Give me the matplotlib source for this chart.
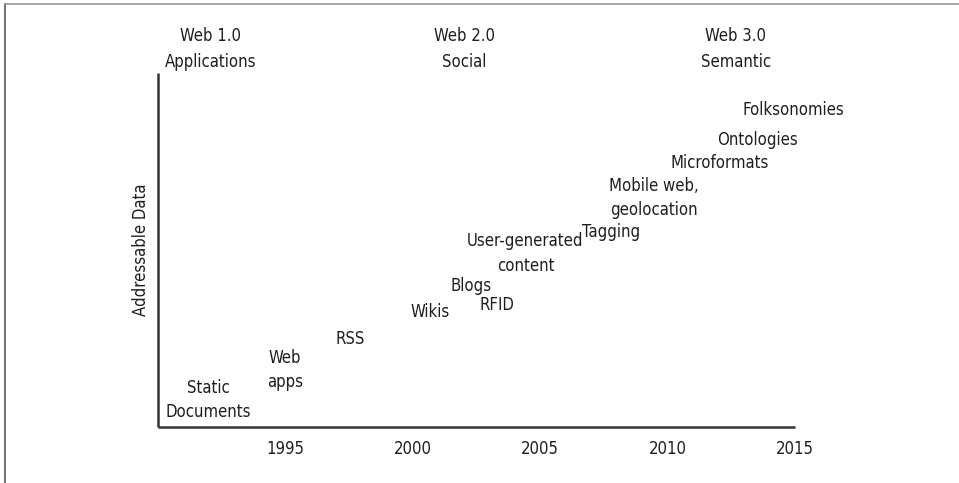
import matplotlib
matplotlib.use('Agg')
import matplotlib.pyplot as plt
from matplotlib.lines import Line2D

plt.rcParams['font.family'] = ['DejaVu Sans']
plt.rcParams['font.stretch'] = 'condensed'

# technologies, placed by year and amount of addressable data
labels = ['Static\nDocuments', 'Web\napps', 'RSS', 'Wikis', 'Blogs', 'RFID',
          'User-generated\ncontent', 'Tagging', 'Mobile web,\ngeolocation',
          'Microformats', 'Ontologies', 'Folksonomies']
years = [1991.96, 1994.98, 1997.54, 2000.67, 2002.28, 2003.3,
         2004.42, 2007.78, 2009.47, 2012.06, 2013.51, 2014.92]
data = [7.6, 16.1, 24.9, 32.5, 39.8, 34.6,
        49.0, 55.1, 64.7, 74.6, 81.1, 89.5]

eras = ['Web 1.0\nApplications', 'Web 2.0\nSocial', 'Web 3.0\nSemantic']
era_years = [1992.08, 2002.01, 2012.68]
era_level = 106.8

ticks = [1995, 2000, 2005, 2010, 2015]

fig = plt.figure(figsize=(9.59, 4.83), dpi=100)
ax = fig.add_axes([158/959, 56/483, (795-158)/959, (427-73)/483])

txt = '#1e1e1e'
fs = 12
for lab, x, y in zip(labels, years, data):
    ax.text(x, y, lab, ha='center', va='center', fontsize=fs, color=txt,
            linespacing=1.46, clip_on=False)

for lab, x in zip(eras, era_years):
    ax.text(x, era_level, lab, ha='center', va='center', fontsize=fs, color=txt,
            linespacing=1.58, clip_on=False)

ax.set_xlim(1990, 2015)
ax.set_ylim(0, 100)
ax.set_xticks(ticks)
ax.set_xticklabels([str(t) for t in ticks], fontsize=fs, color=txt)
ax.tick_params(axis='x', length=0, pad=9)
ax.set_yticks([])
ax.set_ylabel('Addressable Data', fontsize=fs, color=txt, labelpad=6)

for s in ['top', 'right']:
    ax.spines[s].set_visible(False)
for s in ['left', 'bottom']:
    ax.spines[s].set_linewidth(1.8)
    ax.spines[s].set_color('#333333')
    ax.spines[s].set_capstyle('butt')

# frame lines of the page
fig.add_artist(Line2D([5/959, 5/959], [0, 1 - 4/483], color='#777777', lw=1.5))
fig.add_artist(Line2D([5/959, 1], [1 - 4/483, 1 - 4/483], color='#999999', lw=1.2))

fig.savefig('out.png', dpi=100)
